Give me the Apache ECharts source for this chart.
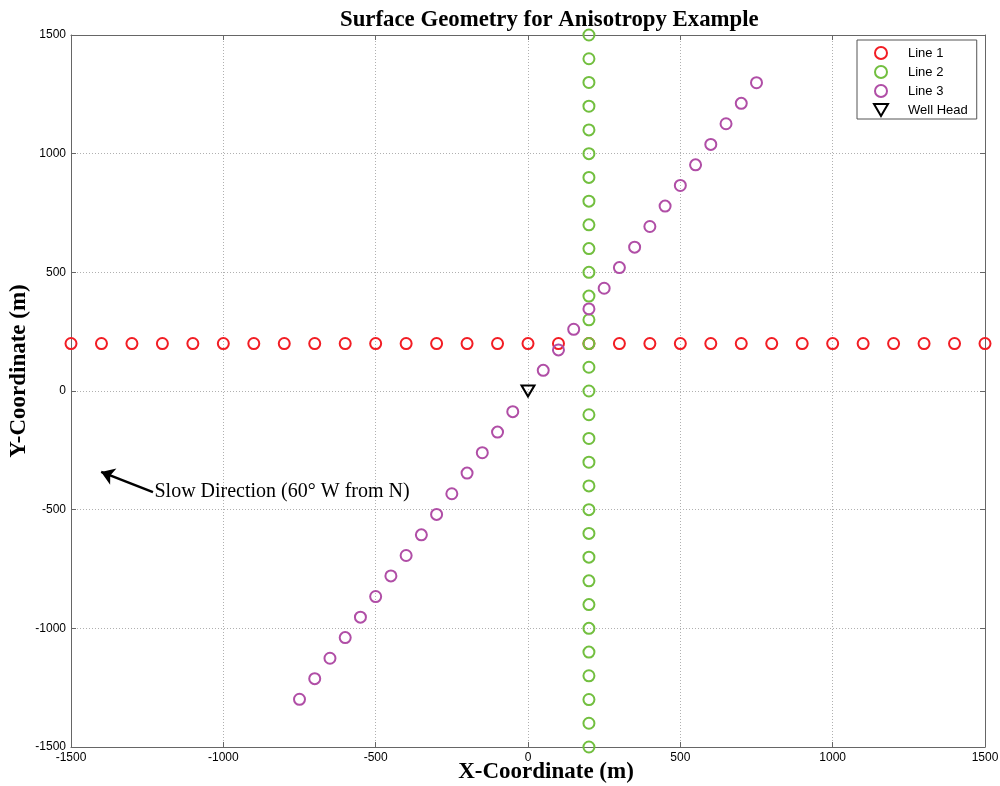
<!DOCTYPE html>
<html>
<head>
<meta charset="utf-8">
<script src="https://cdn.jsdelivr.net/npm/echarts@6/dist/echarts.min.js"></script>
<style>
  html, body { margin: 0; padding: 0; background: #ffffff; }
  #chart { width: 1000px; height: 786px; }
</style>
</head>
<body>
<div id="chart"></div>
<script>
// Receiver line 1: east-west line at y = 200 m
const line1X = [-1500, -1400, -1300, -1200, -1100, -1000, -900, -800, -700, -600, -500, -400, -300, -200, -100, 0,
                100, 200, 300, 400, 500, 600, 700, 800, 900, 1000, 1100, 1200, 1300, 1400, 1500];
const line1Y = [200, 200, 200, 200, 200, 200, 200, 200, 200, 200, 200, 200, 200, 200, 200, 200,
                200, 200, 200, 200, 200, 200, 200, 200, 200, 200, 200, 200, 200, 200, 200];

// Receiver line 2: north-south line at x = 200 m
const line2X = [200, 200, 200, 200, 200, 200, 200, 200, 200, 200, 200, 200, 200, 200, 200, 200,
                200, 200, 200, 200, 200, 200, 200, 200, 200, 200, 200, 200, 200, 200, 200];
const line2Y = [-1500, -1400, -1300, -1200, -1100, -1000, -900, -800, -700, -600, -500, -400, -300, -200, -100, 0,
                100, 200, 300, 400, 500, 600, 700, 800, 900, 1000, 1100, 1200, 1300, 1400, 1500];

// Receiver line 3: diagonal line through the well head
const line3X = [-750, -700, -650, -600, -550, -500, -450, -400, -350, -300, -250, -200, -150, -100, -50,
                50, 100, 150, 200, 250, 300, 350, 400, 450, 500, 550, 600, 650, 700, 750];
const line3Y = [-1299, -1212, -1126, -1039, -953, -866, -779, -693, -606, -520, -433, -346, -260, -173, -87,
                87, 173, 260, 346, 433, 520, 606, 693, 779, 866, 953, 1039, 1126, 1212, 1299];

// Well head location
const wellX = [0];
const wellY = [0];

// Slow-direction arrow (tail -> head) and its caption
const arrowTail = [-1231, -426];
const arrowHead = [-1401, -341];
const arrowText = 'Slow Direction (60\u00B0 W from N)';

const seriesNames = ['Line 1', 'Line 2', 'Line 3', 'Well Head'];
const axisTicks = [-1500, -1000, -500, 0, 500, 1000, 1500];

const pair = (xs, ys) => xs.map((x, i) => [x, ys[i]]);

const serifFont = 'Liberation Serif';
const sansFont = 'Liberation Sans';

function ringSeries(name, xs, ys, color) {
  return {
    name: name,
    type: 'scatter',
    data: pair(xs, ys),
    symbol: 'circle',
    symbolSize: 11,
    itemStyle: { color: 'rgba(255,255,255,0)', borderColor: color, borderWidth: 2, opacity: 1 },
    emphasis: { disabled: true },
    z: 3
  };
}

function valueAxis(pos, showLabels) {
  return {
    type: 'value',
    position: pos,
    min: axisTicks[0],
    max: axisTicks[axisTicks.length - 1],
    interval: 500,
    axisLine: { show: true, onZero: false, lineStyle: { color: '#666666', width: 1 } },
    axisTick: { show: true, inside: true, length: 5, lineStyle: { color: '#666666' } },
    axisLabel: {
      show: showLabels,
      color: '#000000',
      fontFamily: sansFont,
      fontSize: 12,
      margin: 5,
      formatter: (v) => String(v)
    },
    splitLine: showLabels ? { show: true, lineStyle: { color: '#b0b0b0', type: [1, 2], width: 1 } } : { show: false }
  };
}

const chart = echarts.init(document.getElementById('chart'), null, { renderer: 'canvas' });

const xMain = valueAxis('bottom', true);
xMain.name = 'X-Coordinate (m)';
xMain.nameLocation = 'middle';
xMain.nameGap = 14;
xMain.nameMoveOverlap = false;
xMain.nameTextStyle = { fontFamily: serifFont, fontWeight: 'bold', fontSize: 23, color: '#000000', padding: [0, 0, 0, 36] };

const yMain = valueAxis('left', true);
yMain.name = 'Y-Coordinate (m)';
yMain.nameLocation = 'middle';
yMain.nameGap = 40;
yMain.nameMoveOverlap = false;
yMain.nameTextStyle = { fontFamily: serifFont, fontWeight: 'bold', fontSize: 23, color: '#000000', padding: [0, 0, 0, 40] };

const option = {
  backgroundColor: '#ffffff',
  animation: false,
  title: {
    text: 'Surface Geometry for Anisotropy Example',
    left: 340,
    top: 9,
    padding: 0,
    textStyle: { fontFamily: serifFont, fontWeight: 'bold', fontSize: 22.8, color: '#000000' }
  },
  grid: { left: 71, right: 15, top: 35, bottom: 39, containLabel: false, outerBoundsMode: 'none', show: false },
  legend: {
    data: seriesNames,
    orient: 'vertical',
    left: 857,
    top: 40,
    padding: [6, 9, 2, 16],
    itemWidth: 14,
    itemHeight: 12,
    itemGap: 5,
    backgroundColor: '#ffffff',
    borderColor: '#555555',
    borderWidth: 1,
    borderRadius: 0,
    selectedMode: false,
    textStyle: { fontFamily: sansFont, fontSize: 13, color: '#000000', padding: [0, 0, 0, 15] }
  },
  xAxis: [xMain, valueAxis('top', false)],
  yAxis: [yMain, valueAxis('right', false)],
  series: [
    ringSeries('Line 1', line1X, line1Y, '#f21d24'),
    ringSeries('Line 2', line2X, line2Y, '#72bf3f'),
    ringSeries('Line 3', line3X, line3Y, '#b04ea6'),
    {
      name: 'Well Head',
      type: 'scatter',
      data: pair(wellX, wellY),
      symbol: 'path://M0,0 L14,0 L7,12 Z',
      symbolSize: [13, 11],
      itemStyle: { color: 'rgba(255,255,255,0)', borderColor: '#000000', borderWidth: 2, opacity: 1 },
      emphasis: { disabled: true },
      z: 4
    },
    {
      name: 'annotation',
      type: 'scatter',
      data: [],
      silent: true,
      markLine: {
        silent: true,
        symbol: ['none', 'arrow'],
        symbolSize: 13,
        lineStyle: { color: '#000000', width: 2.5, type: 'solid', opacity: 1 },
        label: { show: false },
        emphasis: { disabled: true },
        data: [[{ coord: arrowTail }, { coord: arrowHead }]]
      },
      markPoint: {
        silent: true,
        symbol: 'rect',
        symbolSize: 1,
        itemStyle: { color: 'rgba(0,0,0,0)' },
        label: {
          show: true,
          position: 'right',
          distance: 1,
          formatter: arrowText,
          fontFamily: serifFont,
          fontSize: 20,
          color: '#000000'
        },
        data: [{ coord: arrowTail }]
      }
    }
  ]
};

chart.setOption(option);
</script>
</body>
</html>
